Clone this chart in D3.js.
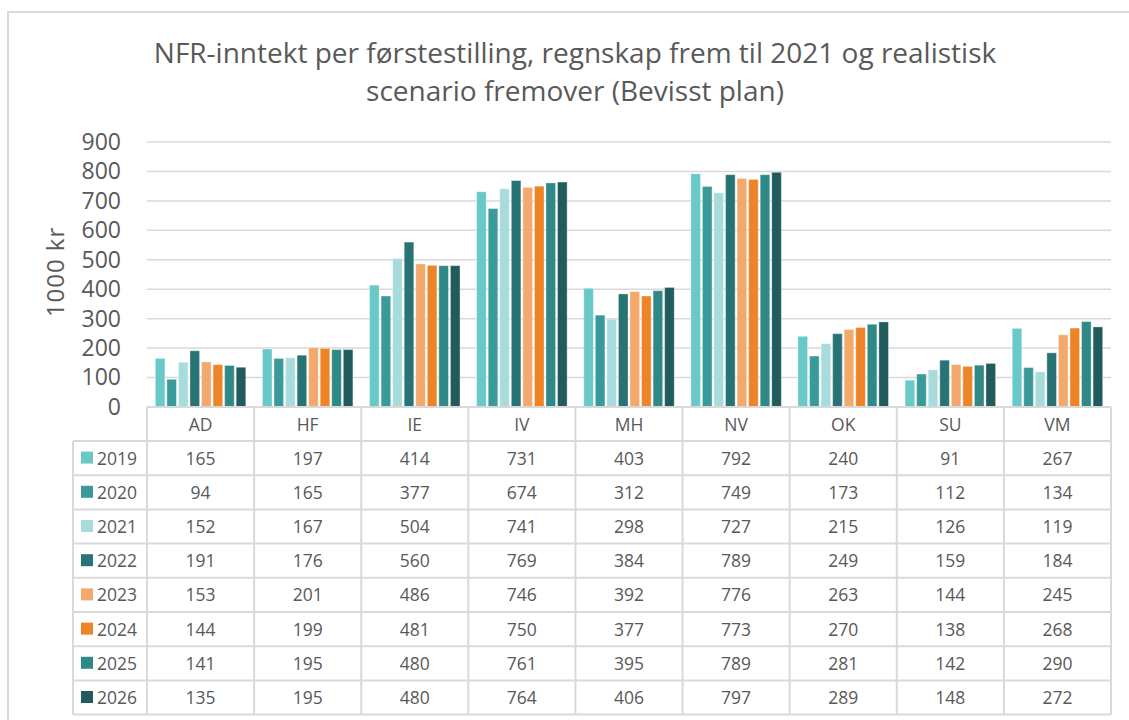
<!DOCTYPE html>
<html>
<head>
<meta charset="utf-8">
<script src="https://cdn.jsdelivr.net/npm/d3@7"></script>
<style>
  html, body { margin: 0; padding: 0; background: #fff; }
  svg { display: block; font-family: "Open Sans", "Noto Sans", sans-serif; }
</style>
</head>
<body>
<svg id="chart" width="1129" height="720"></svg>
<script>
const categories = ["AD", "HF", "IE", "IV", "MH", "NV", "OK", "SU", "VM"];
const seriesNames = ["2019", "2020", "2021", "2022", "2023", "2024", "2025", "2026"];
const v2019 = [165, 197, 414, 731, 403, 792, 240, 91, 267];
const v2020 = [94, 165, 377, 674, 312, 749, 173, 112, 134];
const v2021 = [152, 167, 504, 741, 298, 727, 215, 126, 119];
const v2022 = [191, 176, 560, 769, 384, 789, 249, 159, 184];
const v2023 = [153, 201, 486, 746, 392, 776, 263, 144, 245];
const v2024 = [144, 199, 481, 750, 377, 773, 270, 138, 268];
const v2025 = [141, 195, 480, 761, 395, 789, 281, 142, 290];
const v2026 = [135, 195, 480, 764, 406, 797, 289, 148, 272];
const seriesColors = ["#69C8C8", "#3A9A9A", "#A8DCDC", "#287373", "#F3A86C", "#EE8428", "#2F8986", "#215B5B"];
const yTicks = [0, 100, 200, 300, 400, 500, 600, 700, 800, 900];
const titleLines = ["NFR-inntekt per førstestilling, regnskap frem til 2021 og realistisk", "scenario fremover (Bevisst plan)"];
const yLabel = "1000 kr";

const series = [v2019, v2020, v2021, v2022, v2023, v2024, v2025, v2026];

const svg = d3.select("#chart");
const textColor = "#595959";
const gridColor = "#d9d9d9";

// frame
svg.append("path")
  .attr("d", "M8,720 V12 H1129")
  .attr("fill", "none").attr("stroke", gridColor).attr("stroke-width", 2);

// title
svg.selectAll("text.title").data(titleLines).enter().append("text")
  .attr("class", "title")
  .attr("x", 575).attr("y", (d, i) => 63 + i * 38)
  .attr("text-anchor", "middle")
  .attr("fill", textColor).attr("font-size", 28)
  .text(d => d);

const plotLeft = 147, plotRight = 1111, plotTop = 142, plotBottom = 407;
const x = d3.scaleBand().domain(categories).range([plotLeft, plotRight]).padding(0);
const y = d3.scaleLinear().domain([0, 900]).range([plotBottom, plotTop]);
const xi = d3.scaleBand().domain(seriesNames).range([0, x.bandwidth()]).paddingInner(0.17).paddingOuter(0.72);

// gridlines
svg.append("g").selectAll("line").data(yTicks.filter(d => d > 0)).enter().append("line")
  .attr("x1", plotLeft).attr("x2", plotRight)
  .attr("y1", d => y(d)).attr("y2", d => y(d))
  .attr("stroke", gridColor).attr("stroke-width", 1.5);

// y axis labels
const yAxis = d3.axisLeft(y).tickValues(yTicks).tickSize(0).tickPadding(26);
const yg = svg.append("g").attr("transform", `translate(${plotLeft},0)`).call(yAxis);
yg.select(".domain").remove();
yg.selectAll("text").attr("fill", textColor).attr("font-size", 23)
  .attr("font-family", '"Open Sans", "Noto Sans", sans-serif');

// y axis title
svg.append("text")
  .attr("transform", `translate(64,272) rotate(-90)`)
  .attr("text-anchor", "middle").attr("fill", textColor).attr("font-size", 24)
  .attr("letter-spacing", 1)
  .text(yLabel);

// bars
const groups = svg.append("g").selectAll("g").data(categories).enter().append("g")
  .attr("transform", d => `translate(${x(d)},0)`);
groups.selectAll("rect").data((c, ci) => seriesNames.map((s, si) => ({ s, si, v: series[si][ci] })))
  .enter().append("rect")
  .attr("x", d => xi(d.s))
  .attr("width", xi.bandwidth())
  .attr("y", d => y(d.v))
  .attr("height", d => y(0) - y(d.v))
  .attr("fill", d => seriesColors[d.si])
  .attr("stroke", "#ffffff").attr("stroke-opacity", 0.35).attr("stroke-width", 1);

// table
const tableLeft = 73;
const headerBottom = 441;
const rowH = 34.2;
const tableBottom = headerBottom + rowH * seriesNames.length;
const tg = svg.append("g");

// baseline axis line
tg.append("line").attr("x1", plotLeft).attr("x2", plotRight)
  .attr("y1", plotBottom).attr("y2", plotBottom)
  .attr("stroke", gridColor).attr("stroke-width", 2);

// vertical lines for category columns
const colEdges = categories.map(c => x(c)).concat([plotRight]);
tg.selectAll("line.v").data(colEdges).enter().append("line")
  .attr("x1", d => d).attr("x2", d => d)
  .attr("y1", plotBottom).attr("y2", tableBottom)
  .attr("stroke", gridColor).attr("stroke-width", 2);
// left legend column edge
tg.append("line").attr("x1", tableLeft).attr("x2", tableLeft)
  .attr("y1", headerBottom).attr("y2", tableBottom)
  .attr("stroke", gridColor).attr("stroke-width", 2);
// horizontal lines
const rowEdges = d3.range(seriesNames.length + 1).map(i => headerBottom + i * rowH);
tg.selectAll("line.h").data(rowEdges).enter().append("line")
  .attr("x1", tableLeft).attr("x2", plotRight)
  .attr("y1", d => d).attr("y2", d => d)
  .attr("stroke", gridColor).attr("stroke-width", 2);

// category labels
tg.selectAll("text.cat").data(categories).enter().append("text")
  .attr("x", d => x(d) + x.bandwidth() / 2)
  .attr("y", (plotBottom + headerBottom) / 2 + 6.5)
  .attr("text-anchor", "middle").attr("fill", textColor).attr("font-size", 17.5)
  .text(d => d);

// legend + values
seriesNames.forEach((s, si) => {
  const cy = headerBottom + si * rowH + rowH / 2;
  tg.append("rect").attr("x", 81).attr("y", cy - 6.5).attr("width", 12).attr("height", 12)
    .attr("fill", seriesColors[si]);
  tg.append("text").attr("x", 97).attr("y", cy + 6.5)
    .attr("fill", textColor).attr("font-size", 17.5).text(s);
  tg.selectAll(null).data(series[si]).enter().append("text")
    .attr("x", (d, ci) => x(categories[ci]) + x.bandwidth() / 2)
    .attr("y", cy + 6.5)
    .attr("text-anchor", "middle").attr("fill", textColor).attr("font-size", 17.5)
    .text(d => d);
});
</script>
</body>
</html>
